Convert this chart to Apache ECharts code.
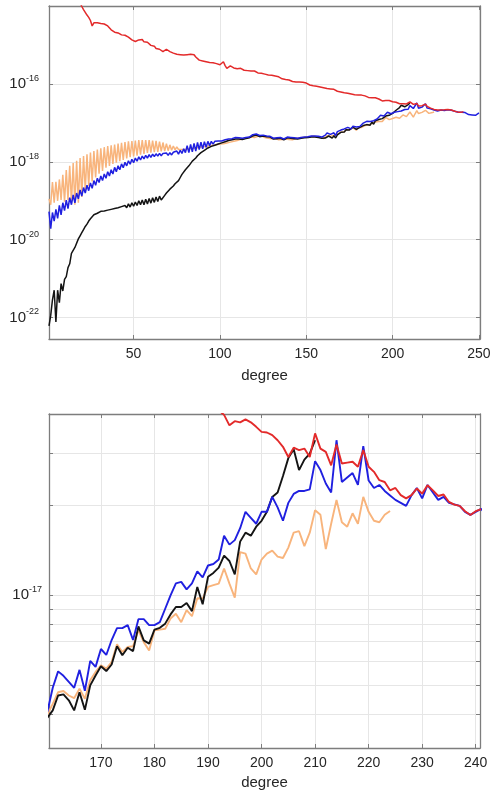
<!DOCTYPE html>
<html><head><meta charset="utf-8">
<script src="https://cdn.jsdelivr.net/npm/echarts@6/dist/echarts.min.js"></script>
<style>html,body{margin:0;padding:0;background:#fff}#c{width:494px;height:792px}</style>
</head><body><div id="c"></div>
<script>
// log10 of power, one value per degree, starting at the given degree
const blueStart = 1;
const blueLog = [
-19.28,-19.72,-19.30,-19.52,-19.22,-19.45,-19.12,-19.36,-19.05,-19.25,
-18.98,-19.20,-18.92,-19.10,-18.85,-19.05,-18.80,-18.95,-18.72,-18.88,
-18.66,-18.80,-18.60,-18.74,-18.54,-18.68,-18.48,-18.60,-18.42,-18.53,
-18.36,-18.48,-18.31,-18.42,-18.25,-18.36,-18.20,-18.31,-18.14,-18.25,
-18.10,-18.20,-18.05,-18.15,-18.01,-18.10,-17.97,-18.06,-17.93,-18.02,
-17.90,-17.98,-17.87,-17.95,-17.85,-17.92,-17.83,-17.90,-17.81,-17.88,
-17.80,-17.86,-17.79,-17.85,-17.78,-17.84,-17.78,-17.83,-17.77,-17.83,
-17.76,-17.82,-17.75,-17.80,-17.72,-17.80,-17.70,-17.78,-17.66,-17.76,
-17.58,-17.76,-17.55,-17.74,-17.52,-17.72,-17.50,-17.68,-17.49,-17.66,
-17.48,-17.62,-17.47,-17.58,-17.47,-17.54,-17.47,-17.52,-17.46,-17.50,
-17.46,-17.48,-17.43,-17.46,-17.41,-17.44,-17.40,-17.42,-17.37,-17.40,
-17.38,-17.36,-17.39,-17.35,-17.37,-17.33,-17.36,-17.31,-17.30,-17.33,
-17.28,-17.30,-17.32,-17.29,-17.31,-17.34,-17.33,-17.36,-17.34,-17.37,
-17.39,-17.36,-17.38,-17.40,-17.37,-17.39,-17.41,-17.38,-17.36,-17.39,
-17.37,-17.40,-17.38,-17.36,-17.39,-17.35,-17.37,-17.34,-17.36,-17.33,
-17.35,-17.31,-17.33,-17.30,-17.33,-17.31,-17.34,-17.32,-17.36,-17.39,
-17.31,-17.255,-17.27,-17.29,-17.31,-17.25,-17.32,-17.22,-17.24,-17.18,
-17.20,-17.15,-17.11,-17.11,-17.10,-17.15,-17.08,-17.08,-17.10,-17.10,
-17.09,-17.045,-17.00,-16.96,-16.955,-16.98,-16.96,-16.92,-16.94,-16.90,
-16.895,-16.88,-16.80,-16.83,-16.815,-16.775,-16.72,-16.74,-16.76,-16.72,
-16.72,-16.67,-16.705,-16.75,-16.69,-16.66,-16.65,-16.65,-16.645,-16.55,
-16.58,-16.625,-16.655,-16.48,-16.62,-16.605,-16.59,-16.63,-16.50,-16.615,
-16.64,-16.63,-16.65,-16.665,-16.68,-16.69,-16.70,-16.665,-16.64,-16.675,
-16.63,-16.655,-16.68,-16.67,-16.69,-16.695,-16.70,-16.72,-16.73,-16.72,
-16.71,-16.73,-16.75,-16.78,-16.80,-16.79,-16.82,-16.80,-16.77,-16.74
];
const orangeStart = 1;
const orangeLog = [
-18.95,-19.10,-18.52,-19.05,-18.51,-19.00,-18.45,-18.98,-18.33,-19.02,
-18.21,-18.98,-18.10,-19.05,-18.03,-19.10,-17.97,-19.05,-17.90,-18.90,
-17.85,-18.72,-17.80,-18.62,-17.76,-18.50,-17.72,-18.40,-17.68,-18.30,
-17.65,-18.23,-17.62,-18.15,-17.59,-18.10,-17.57,-18.05,-17.55,-18.02,
-17.53,-17.98,-17.51,-17.95,-17.49,-17.91,-17.47,-17.88,-17.46,-17.86,
-17.45,-17.84,-17.44,-17.81,-17.44,-17.79,-17.44,-17.77,-17.44,-17.76,
-17.45,-17.75,-17.46,-17.74,-17.48,-17.73,-17.50,-17.72,-17.53,-17.71,
-17.56,-17.70,-17.59,-17.69,-17.61,-17.68,-17.63,-17.68,-17.65,-17.68,
-17.67,-17.66,-17.66,-17.65,-17.64,-17.64,-17.63,-17.62,-17.62,-17.61,
-17.60,-17.60,-17.59,-17.58,-17.58,-17.57,-17.56,-17.56,-17.55,-17.54,
-17.53,-17.53,-17.50,-17.51,-17.48,-17.49,-17.46,-17.47,-17.44,-17.45,
-17.43,-17.42,-17.44,-17.40,-17.41,-17.38,-17.40,-17.36,-17.35,-17.37,
-17.33,-17.34,-17.36,-17.33,-17.35,-17.37,-17.36,-17.39,-17.37,-17.40,
-17.42,-17.39,-17.41,-17.43,-17.40,-17.42,-17.44,-17.41,-17.39,-17.42,
-17.40,-17.43,-17.41,-17.39,-17.42,-17.38,-17.40,-17.37,-17.39,-17.36,
-17.38,-17.35,-17.37,-17.34,-17.37,-17.35,-17.38,-17.36,-17.39,-17.40,
-17.364,-17.325,-17.321,-17.336,-17.345,-17.313,-17.347,-17.285,-17.257,-17.235,
-17.246,-17.224,-17.164,-17.190,-17.173,-17.171,-17.117,-17.157,-17.185,-17.117,
-17.115,-17.112,-17.078,-17.062,-17.090,-17.050,-17.070,-17.01,-17.011,-16.972,
-16.966,-16.961,-16.910,-16.961,-17.008,-16.855,-16.86,-16.91,-16.93,-16.88,
-16.86,-16.85,-16.87,-16.875,-16.84,-16.79,-16.785,-16.835,-16.79,-16.715,
-16.73,-16.845,-16.76,-16.68,-16.755,-16.77,-16.725,-16.76,-16.67,-16.72,
-16.75,-16.755,-16.73,-16.717
];
const blackStart = 1;
const blackLog = [
-22.22,-21.95,-21.55,-21.30,-22.12,-21.30,-21.62,-21.13,-21.32,-21.02,
-20.95,-20.72,-20.62,-20.35,-20.38,-20.20,-20.24,-19.98,-19.90,-19.82,
-19.74,-19.66,-19.60,-19.52,-19.46,-19.42,-19.36,-19.38,-19.32,-19.30,
-19.27,-19.30,-19.26,-19.28,-19.24,-19.25,-19.22,-19.24,-19.20,-19.22,
-19.18,-19.21,-19.15,-19.19,-19.12,-19.18,-19.08,-19.16,-19.05,-19.14,
-19.03,-19.12,-19.00,-19.10,-18.98,-19.10,-18.96,-19.08,-18.94,-19.06,
-18.92,-19.04,-18.90,-19.02,-18.88,-18.98,-18.95,-18.86,-18.80,-18.75,
-18.70,-18.68,-18.62,-18.56,-18.52,-18.48,-18.40,-18.32,-18.28,-18.20,
-18.16,-18.10,-18.05,-17.98,-17.94,-17.90,-17.84,-17.80,-17.76,-17.72,
-17.70,-17.66,-17.64,-17.62,-17.60,-17.58,-17.57,-17.56,-17.54,-17.53,
-17.51,-17.52,-17.48,-17.50,-17.45,-17.47,-17.43,-17.45,-17.41,-17.43,
-17.41,-17.39,-17.42,-17.38,-17.40,-17.36,-17.38,-17.34,-17.33,-17.35,
-17.31,-17.32,-17.35,-17.31,-17.33,-17.36,-17.35,-17.38,-17.36,-17.39,
-17.41,-17.38,-17.40,-17.42,-17.39,-17.41,-17.43,-17.40,-17.38,-17.41,
-17.39,-17.42,-17.40,-17.38,-17.41,-17.37,-17.39,-17.36,-17.38,-17.35,
-17.37,-17.34,-17.36,-17.33,-17.36,-17.34,-17.37,-17.35,-17.39,-17.41,
-17.386,-17.336,-17.332,-17.352,-17.386,-17.325,-17.384,-17.302,-17.269,-17.238,
-17.254,-17.232,-17.171,-17.201,-17.176,-17.187,-17.104,-17.151,-17.162,-17.115,
-17.109,-17.095,-17.064,-17.039,-17.039,-17.026,-17.053,-16.972,-17.030,-16.938,
-16.925,-16.907,-16.867,-16.885,-16.93,-16.82,-16.79,-16.80,-16.77,-16.75,
-16.72,-16.67,-16.655,-16.60,-16.54,-16.51,-16.58,-16.545,-16.525,-16.48
];
const redStart = 18;
const redLog = [
-13.80,-13.90,-14.00,-14.08,-14.15,-14.22,-14.28,-14.36,-14.50,-14.42,
-14.38,-14.42,-14.46,-14.44,-14.41,-14.45,-14.43,-14.50,-14.55,-14.60,
-14.62,-14.66,-14.69,-14.68,-14.72,-14.73,-14.70,-14.74,-14.73,-14.79,
-14.84,-14.86,-14.85,-14.90,-14.88,-14.86,-14.87,-14.85,-14.91,-14.94,
-14.92,-14.97,-15.00,-15.03,-15.02,-15.08,-15.12,-15.10,-15.14,-15.16,
-15.13,-15.10,-15.12,-15.16,-15.15,-15.20,-15.19,-15.23,-15.26,-15.24,
-15.27,-15.25,-15.26,-15.24,-15.27,-15.23,-15.20,-15.24,-15.30,-15.34,
-15.38,-15.36,-15.40,-15.39,-15.42,-15.40,-15.44,-15.42,-15.45,-15.43,
-15.47,-15.49,-15.50,-15.46,-15.42,-15.52,-15.59,-15.56,-15.53,-15.55,
-15.58,-15.57,-15.60,-15.61,-15.59,-15.62,-15.64,-15.62,-15.65,-15.67,
-15.66,-15.68,-15.66,-15.69,-15.71,-15.69,-15.72,-15.71,-15.74,-15.73,
-15.76,-15.78,-15.77,-15.80,-15.79,-15.82,-15.81,-15.83,-15.86,-15.85,
-15.88,-15.90,-15.89,-15.92,-15.93,-15.91,-15.94,-15.96,-15.94,-15.97,
-15.95,-15.98,-15.97,-16.00,-16.02,-16.01,-16.04,-16.06,-16.05,-16.08,
-16.07,-16.10,-16.09,-16.12,-16.11,-16.13,-16.12,-16.15,-16.13,-16.16,
-16.18,-16.17,-16.20,-16.19,-16.22,-16.21,-16.23,-16.22,-16.25,-16.24,
-16.27,-16.26,-16.28,-16.29,-16.28,-16.31,-16.30,-16.32,-16.34,-16.33,
-16.35,-16.36,-16.35,-16.37,-16.38,-16.395,-16.43,-16.416,-16.42,-16.41,
-16.42,-16.435,-16.452,-16.454,-16.463,-16.48,-16.502,-16.536,-16.505,-16.513,
-16.508,-16.536,-16.457,-16.508,-16.519,-16.564,-16.494,-16.558,-16.555,-16.552,
-16.569,-16.513,-16.569,-16.586,-16.614,-16.62,-16.648,-16.64,-16.664,-16.675,
-16.664,-16.642,-16.659,-16.631,-16.648,-16.667,-16.662,-16.687,-16.696,-16.70,
-16.718,-16.731,-16.718,-16.711
];

// axis ticks
const topXTicks = [50, 100, 150, 200, 250];
const topYTickExps = [-22, -20, -18, -16];
const botXTicks = [170, 180, 190, 200, 210, 220, 230, 240];
const botYTickValues = [4e-18, 5e-18, 6e-18, 7e-18, 8e-18, 9e-18, 1e-17, 2e-17, 3e-17];
const botYLabelExps = [-17];

const FONT = 'Liberation Sans';
const TXT = '#262626';
const AX = '#7d7d7d';
const GRIDC = '#e6e6e6';
const botYTicks = botYTickValues.map(v => Math.log10(v));

function pairs(start, arr) { return arr.map((v, i) => [start + i, v]); }

const expRich = {
  b: { fontSize: 15, lineHeight: 20, color: TXT, fontFamily: FONT },
  s: { fontSize: 9, lineHeight: 9, color: TXT, fontFamily: FONT, verticalAlign: 'top' }
};
function expFmt(v) { return '{b|10}{s|' + Math.round(v) + '}'; }

function mainX(gi, min, max, ticks, gap) {
  return {
    type: 'value', gridIndex: gi, min: min, max: max, position: 'bottom',
    axisLine: { show: true, onZero: false, lineStyle: { color: AX, width: 1.3 } },
    axisTick: { show: true, inside: true, length: 4, customValues: ticks, lineStyle: { color: AX } },
    axisLabel: { show: true, customValues: ticks, margin: 8, color: TXT, fontSize: 14, fontFamily: FONT },
    splitLine: { show: true, lineStyle: { color: GRIDC, width: 1 } },
    name: 'degree', nameLocation: 'middle', nameGap: gap,
    nameTextStyle: { color: TXT, fontSize: 15, fontFamily: FONT }
  };
}
function boxX(gi, min, max, ticks) {
  return {
    type: 'value', gridIndex: gi, min: min, max: max, position: 'top',
    axisLine: { show: true, onZero: false, lineStyle: { color: AX, width: 1.3 } },
    axisTick: { show: true, inside: true, length: 4, customValues: ticks, lineStyle: { color: AX } },
    axisLabel: { show: false }, splitLine: { show: false }
  };
}
function mainY(gi, min, max, ticks, labels, margin) {
  return {
    type: 'value', gridIndex: gi, min: min, max: max, position: 'left',
    axisLine: { show: true, onZero: false, lineStyle: { color: AX, width: 1.3 } },
    axisTick: { show: true, inside: true, length: 4, customValues: ticks, lineStyle: { color: AX } },
    axisLabel: { show: true, customValues: labels, margin: margin, formatter: expFmt, rich: expRich },
    splitLine: { show: true, lineStyle: { color: GRIDC, width: 1 } }
  };
}
function boxY(gi, min, max, ticks) {
  return {
    type: 'value', gridIndex: gi, min: min, max: max, position: 'right',
    axisLine: { show: true, onZero: false, lineStyle: { color: AX, width: 1.3 } },
    axisTick: { show: true, inside: true, length: 4, customValues: ticks, lineStyle: { color: AX } },
    axisLabel: { show: false }, splitLine: { show: false }
  };
}

const topX = [1, 250.6], topY = [-22.556, -13.987];
const botX = [160.3, 240.8], botY = [-17.512, -16.392];

const seriesDefs = [
  { name: 'orange', color: '#f8b47c', start: orangeStart, data: orangeLog },
  { name: 'black', color: '#141414', start: blackStart, data: blackLog },
  { name: 'blue', color: '#2020e0', start: blueStart, data: blueLog },
  { name: 'red', color: '#e32a2a', start: redStart, data: redLog }
];
const series = [];
[[0, 1.5], [1, 1.9]].forEach(([panel, w]) => {
  seriesDefs.forEach(s => {
    series.push({
      type: 'line', name: s.name, xAxisIndex: panel * 2, yAxisIndex: panel * 2,
      data: pairs(s.start, s.data), showSymbol: false, symbol: 'none', clip: true,
      lineStyle: { color: s.color, width: w }, itemStyle: { color: s.color }
    });
  });
});

const chart = echarts.init(document.getElementById('c'), null, { renderer: 'canvas' });
chart.setOption({
  animation: false,
  backgroundColor: '#ffffff',
  textStyle: { fontFamily: FONT },
  grid: [
    { left: 49, top: 6, width: 431, height: 333 },
    { left: 49, top: 414, width: 431, height: 334 }
  ],
  xAxis: [
    mainX(0, topX[0], topX[1], topXTicks, 29),
    boxX(0, topX[0], topX[1], topXTicks),
    mainX(1, botX[0], botX[1], botXTicks, 27),
    boxX(1, botX[0], botX[1], botXTicks)
  ],
  yAxis: [
    mainY(0, topY[0], topY[1], topYTickExps, topYTickExps, 10),
    boxY(0, topY[0], topY[1], topYTickExps),
    mainY(1, botY[0], botY[1], botYTicks, botYLabelExps, 7),
    boxY(1, botY[0], botY[1], botYTicks)
  ],
  series: series
});
</script>
</body></html>
